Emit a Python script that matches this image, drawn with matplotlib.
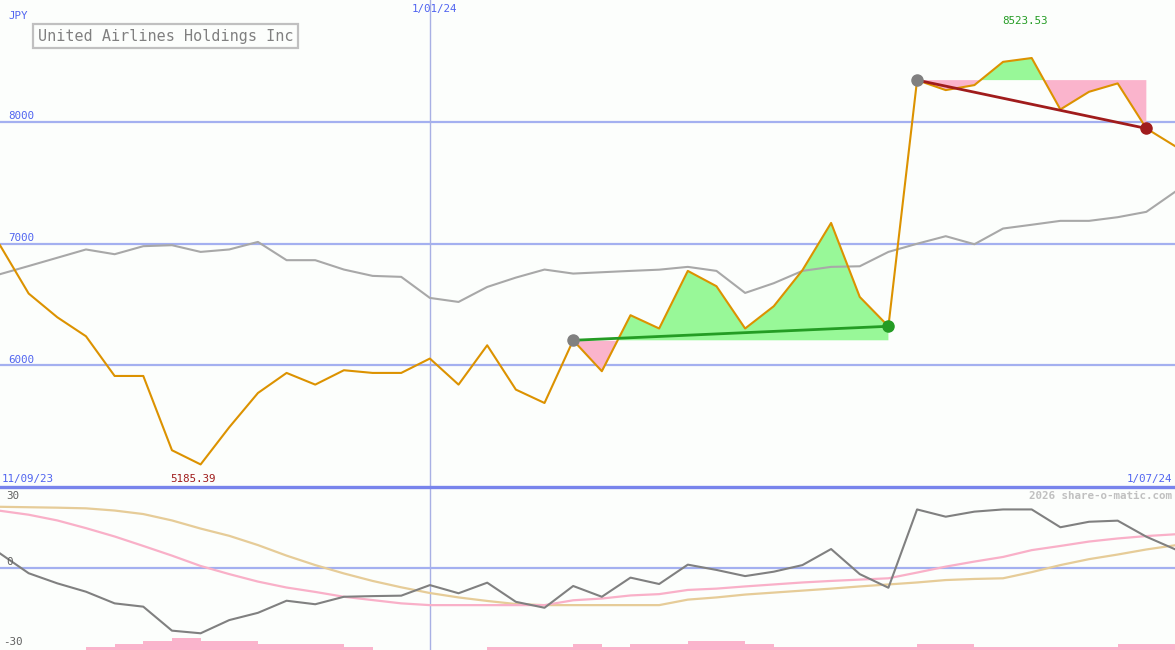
import matplotlib
matplotlib.use("Agg")
import matplotlib.pyplot as plt
import numpy as np

# ---- data (weekly, 42 points) ----
price = [6986, 6589, 6394, 6238, 5912, 5912, 5302, 5185.39, 5491, 5772,
         5937, 5841, 5959, 5937, 5937, 6055, 5841, 6164, 5800, 5690,
         6205, 5951, 6411, 6302, 6775, 6649, 6302, 6485, 6781, 7169,
         6561, 6320, 8342, 8260, 8301, 8492, 8523.53, 8101, 8246, 8315,
         7945, 7800]
ma = [6748, 6815, 6883, 6951, 6912, 6978, 6986, 6931, 6951, 7013,
      6863, 6863, 6786, 6734, 6726, 6553, 6520, 6643, 6720, 6786,
      6753, 6764, 6775, 6785, 6808, 6775, 6594, 6674, 6775, 6808,
      6813, 6931, 6998, 7060, 6994, 7123, 7154, 7186, 7186, 7216,
      7260, 7424]
mom = [6.5, -2.5, -7.1, -10.9, -16.2, -17.7, -28.6, -29.8, -23.8, -20.5,
       -15.0, -16.6, -13.2, -12.9, -12.7, -7.9, -11.6, -6.8, -15.5, -18.2,
       -8.3, -13.2, -4.5, -7.4, 1.4, -1.0, -3.8, -1.8, 1.2, 8.5,
       -2.9, -9.1, 26.5, 23.2, 25.5, 26.5, 26.5, 18.4, 20.9, 21.4,
       14.1, 8.4]
sig_fast = [25.9, 24.1, 21.5, 18.0, 14.2, 9.9, 5.5, 0.8, -2.9, -6.3,
            -9.0, -11.0, -13.2, -14.7, -16.2, -17.0, -17.0, -17.0, -17.0, -17.0,
            -14.8, -14.0, -12.6, -12.0, -10.1, -9.5, -8.5, -7.6, -6.7, -6.0,
            -5.4, -4.8, -2.2, 0.5, 2.8, 4.9, 8.0, 9.9, 11.9, 13.3,
            14.4, 15.2]
sig_slow = [27.7, 27.5, 27.3, 27.0, 26.0, 24.4, 21.5, 17.8, 14.5, 10.3,
            5.5, 1.2, -2.6, -6.0, -8.9, -11.5, -13.5, -15.1, -16.5, -17.0,
            -17.0, -17.0, -17.0, -17.0, -14.5, -13.5, -12.2, -11.3, -10.4, -9.5,
            -8.5, -7.6, -6.7, -5.6, -5.1, -4.8, -2.0, 1.2, 3.9, 6.0,
            8.3, 10.2]
vol_levels = [0, 0, 0, 1, 2, 3, 4, 3, 3, 2,
              2, 2, 1, 0, 0, 0, 0, 1, 1, 1,
              2, 1, 2, 2, 3, 3, 2, 1, 1, 1,
              1, 1, 2, 2, 1, 1, 1, 1, 1, 2,
              2]
trend1 = (20, 31)   # up-trend segment indices
trend2 = (32, 40)   # down-trend segment indices
yticks_main = [6000, 7000, 8000]
date_mid = (15, "1/01/24")
date_left = "11/09/23"
date_right = "1/07/24"
title = "United Airlines Holdings Inc"
currency = "JPY"

# ---- style ----
BG = "#fcfefc"
GRID = "#a4b0f0"
BLUE_TXT = "#5064f0"
ORANGE = "#dc9200"
MONO = "DejaVu Sans Mono"

W, H = 1175, 650
fig = plt.figure(figsize=(W / 100, H / 100), dpi=100, facecolor=BG)
split = 487
ax = fig.add_axes([0, (H - split) / H, 1, split / H])
ax2 = fig.add_axes([0, 0, 1, (H - split) / H])
for a in (ax, ax2):
    a.set_facecolor(BG)
    a.set_axis_off()

x = np.arange(len(price))
n = len(price) - 1
ax.set_xlim(0, n)
ax2.set_xlim(0, n)
ax.set_ylim(5000, 9000)
ax2.set_ylim(-37.4, 36.7)

# grid lines
for v in yticks_main:
    ax.axhline(v, color=GRID, lw=1.6, zorder=1)
ax.axvline(date_mid[0], color="#a8b0e4", lw=1.0, zorder=1)
ax2.axvline(date_mid[0], color="#a8b0e4", lw=1.0, zorder=1)
ax2.axhline(0, color=GRID, lw=1.6, zorder=1)

# trend fills
p = np.array(price, dtype=float)
for (s, e) in (trend1, trend2):
    xs = x[s:e + 1]
    ys = p[s:e + 1]
    ref = p[s]
    ax.fill_between(xs, ys, ref, where=ys >= ref, interpolate=True,
                    color="#98f898", lw=0, zorder=2)
    ax.fill_between(xs, ys, ref, where=ys <= ref, interpolate=True,
                    color="#fab4cc", lw=0, zorder=2)

# lines
ax.plot(x, ma, color="#a8a8a8", lw=1.5, zorder=3)
ax.plot(x, price, color=ORANGE, lw=1.5, zorder=4)

# trend lines and markers
s, e = trend1
ax.plot([s, e], [p[s], p[e]], color="#249c24", lw=2, zorder=5)
ax.plot([s], [p[s]], "o", color="#808080", ms=8, zorder=6)
ax.plot([e], [p[e]], "o", color="#249c24", ms=8, zorder=6)
s, e = trend2
ax.plot([s, e], [p[s], p[e]], color="#a01c1c", lw=2, zorder=5)
ax.plot([s], [p[s]], "o", color="#808080", ms=8, zorder=6)
ax.plot([e], [p[e]], "o", color="#a01c1c", ms=8, zorder=6)

# lower panel
ybot = ax2.get_ylim()[0]
unit = 3.0 / 2.2
ax2.bar(np.arange(len(vol_levels)), [v * unit for v in vol_levels], width=1.0,
        align="edge", bottom=ybot, color="#fab4cc", lw=0, zorder=2)
ax2.plot(x, sig_slow, color="#e6cc98", lw=1.6, zorder=3)
ax2.plot(x, sig_fast, color="#f9b0c8", lw=1.6, zorder=3)
ax2.plot(x, mom, color="#808080", lw=1.5, zorder=4)

# separator line
fig.add_artist(plt.Line2D([0, 1], [(H - split) / H] * 2, color="#7884ec",
                          lw=2.4, transform=fig.transFigure))


def ftxt(px, py, s, **kw):
    fig.text(px / W, 1 - py / H, s, family=MONO, **kw)


ftxt(8, 16, currency, color=BLUE_TXT, fontsize=7.8, va="center")
for v in yticks_main:
    py = split - (v - 5000) / 4000 * split
    ftxt(8, py - 5.5, str(v), color=BLUE_TXT, fontsize=7.8, va="center")
ftxt(434, 9, date_mid[1], color=BLUE_TXT, fontsize=7.8, va="center", ha="center")
ftxt(2, 479, date_left, color=BLUE_TXT, fontsize=7.8, va="center")
ftxt(1172, 479, date_right, color=BLUE_TXT, fontsize=7.8, va="center", ha="right")

imin = int(np.argmin(p))
imax = int(np.argmax(p))
ftxt(imin * W / n - 8, 479, f"{p[imin]:.2f}", color="#a01c1c", fontsize=7.8,
     va="center", ha="center")
ftxt(imax * W / n - 7, 21, f"{p[imax]:.2f}", color="#249c24", fontsize=7.8,
     va="center", ha="center")
ftxt(1172, 496, "2026 share-o-matic.com", color="#c0c0c0", fontsize=7.8,
     va="center", ha="right", weight="bold")

ftxt(6, 496, "30", color="#606060", fontsize=7.8, va="center")
ftxt(6, 562, "0", color="#606060", fontsize=7.8, va="center")
ftxt(3, 642, "-30", color="#606060", fontsize=7.8, va="center")

# title box
fig.text(38 / W, 1 - 36 / H, title, family=MONO, color="#808080", fontsize=10.9,
         va="center", ha="left",
         bbox=dict(boxstyle="square,pad=0.3", fc=BG, ec="#c0c0c0", lw=1.6))

fig.savefig("out.png", dpi=100, facecolor=BG)
